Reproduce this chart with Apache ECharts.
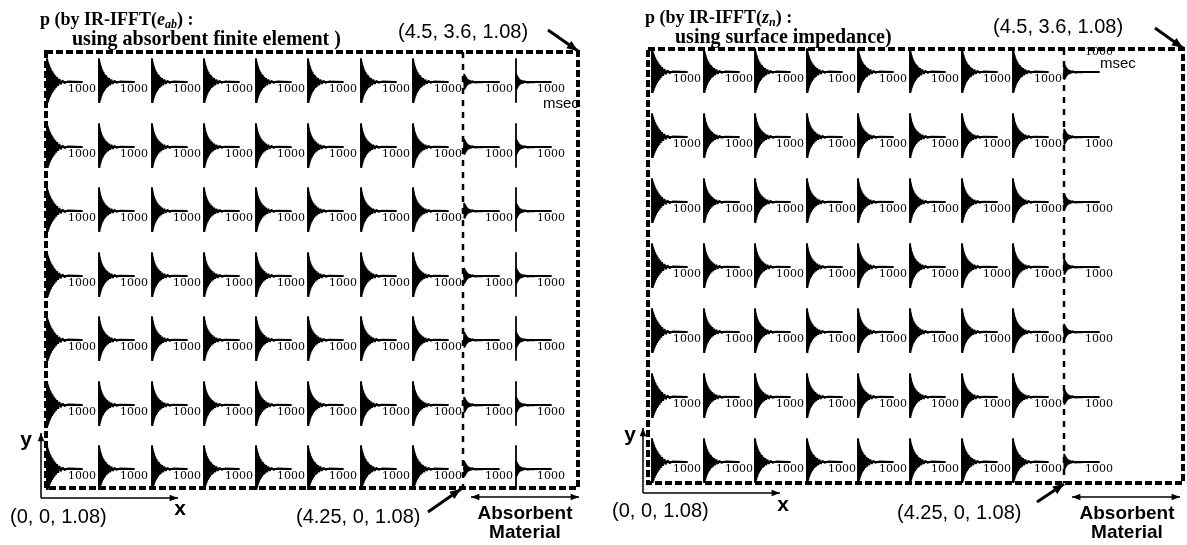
<!DOCTYPE html>
<html>
<head>
<meta charset="utf-8">
<script src="https://cdn.jsdelivr.net/npm/echarts@6/dist/echarts.min.js"></script>
<style>html,body{margin:0;background:#fff}#c{width:1187px;height:545px}</style>
</head>
<body>
<div id="c"></div>
<script>
// Impulse responses p(t) at 7 x N receiver points, two models side by side.
// Left: absorbent finite element (receivers also inside the absorbent layer),
// right: surface impedance. Each mini plot: 0..1000 msec.

// sample times (msec) shared by all waveforms
const TIME_MS = [0, 6, 12, 18, 24, 30, 38, 46, 54, 62, 72, 82, 92, 104, 116, 130,
  145, 160, 178, 196, 216, 238, 262, 290, 320, 355, 395, 440, 500, 600, 1000];

// read-off envelopes (normalised pressure), alternating sign
const WAVE_WALL = [0, 1.0, -0.95, 0.92, -0.9, 0.87, -0.84, 0.8, -0.77, 0.74, -0.7, 0.66,
  -0.63, 0.6, -0.56, 0.52, -0.48, 0.45, -0.41, 0.37, -0.33, 0.29, -0.25, 0.21, -0.17, 0.13,
  -0.1, 0.075, -0.05, 0.025, 0];
const WAVE_EDGE = [0, 1.0, -0.93, 0.9, -0.86, 0.82, -0.78, 0.74, -0.7, 0.66, -0.62, 0.58,
  -0.54, 0.5, -0.47, 0.43, -0.4, 0.36, -0.33, 0.3, -0.26, 0.23, -0.2, 0.17, -0.14, 0.11,
  -0.085, 0.065, -0.045, 0.022, 0];
const WAVE_ROOM = [0, 1.0, -0.92, 0.88, -0.84, 0.8, -0.75, 0.7, -0.66, 0.62, -0.58, 0.54,
  -0.5, 0.47, -0.44, 0.4, -0.37, 0.33, -0.3, 0.27, -0.24, 0.21, -0.18, 0.15, -0.12, 0.1,
  -0.08, 0.06, -0.04, 0.02, 0];
const WAVE_ABSORB = [0, 0.36, -0.34, 0.32, -0.3, 0.28, -0.26, 0.24, -0.22, 0.2, -0.18, 0.16,
  -0.14, 0.12, -0.11, 0.1, -0.09, 0.08, -0.07, 0.06, -0.05, 0.045, -0.04, 0.035, -0.03,
  0.025, -0.02, 0.015, -0.01, 0.005, 0];

const WAVES = { wall: WAVE_WALL, edge: WAVE_EDGE, room: WAVE_ROOM, absorb: WAVE_ABSORB };

// which waveform each receiver column shows (x = 0 ... 4.25 | absorbent)
const LEFT_COLUMN_WAVES = ['wall', 'room', 'room', 'room', 'room', 'room', 'room', 'room', 'absorb', 'absorb'];
const RIGHT_COLUMN_WAVES = ['wall', 'room', 'room', 'room', 'room', 'room', 'room', 'room', 'absorb'];
const ROW_COUNT = 7;
const TIME_RANGE = [0, 1000];
const TIME_TICK_LABEL = '1000';

// layout (px)
const LEFT_COL_X = [47, 99, 152, 204, 256, 308, 361, 413, 464, 516];
const LEFT_ROW_BASE = [82, 147, 211, 276, 340, 405, 469];
const RIGHT_COL_X = [652, 704, 755, 807, 858, 910, 962, 1013, 1064];
const RIGHT_ROW_BASE = [72, 137, 202, 267, 332, 397, 462];
const ABOVE = 23, BELOW = 20; // vertical axis reach above / below the zero line

const grid = [], xAxis = [], yAxis = [], series = [];

function addPanel(colX, rowBase, colWaves, boundaryCol, raisedCell) {
  rowBase.slice(0, ROW_COUNT).forEach((base, r) => {
    colX.forEach((x, c) => {
      const i = grid.length;
      let kind = colWaves[c];
      if (kind === 'room' && (r === 0 || r === ROW_COUNT - 1)) kind = 'edge';
      const raised = raisedCell && raisedCell[0] === r && raisedCell[1] === c;
      grid.push({ left: x, top: base - ABOVE, width: 35, height: ABOVE + BELOW, outerBoundsMode: 'none' });
      xAxis.push({
        gridIndex: i, type: 'value', min: TIME_RANGE[0], max: TIME_RANGE[1], interval: 1000,
        offset: -BELOW,
        axisLine: { onZero: false, lineStyle: { color: '#000', width: 1.8 } },
        axisTick: { show: false }, splitLine: { show: false },
        axisLabel: {
          showMinLabel: false, showMaxLabel: true, margin: raised ? -25 : 2,
          formatter: v => (v === TIME_RANGE[1] ? TIME_TICK_LABEL : ''),
          color: '#000', fontFamily: '"DejaVu Serif", serif', fontSize: 11,
        },
      });
      yAxis.push({
        gridIndex: i, type: 'value', min: -BELOW / ABOVE, max: 1,
        axisLine: { show: c !== boundaryCol, onZero: false, lineStyle: { color: '#000', width: 1.8 } },
        axisTick: { show: false }, axisLabel: { show: false }, splitLine: { show: false },
      });
      const wave = WAVES[kind];
      series.push({
        type: 'line', xAxisIndex: i, yAxisIndex: i,
        data: TIME_MS.map((t, k) => [t, wave[k]]),
        showSymbol: false, symbol: 'none', silent: true,
        lineStyle: { color: '#000', width: 1.8 },
      });
    });
  });
}

addPanel(LEFT_COL_X, LEFT_ROW_BASE, LEFT_COLUMN_WAVES, 8);
addPanel(RIGHT_COL_X, RIGHT_ROW_BASE, RIGHT_COLUMN_WAVES, 8, [0, 8]);

// decorations
function arrow(x1, y1, x2, y2, w, h, both) {
  const a = Math.atan2(y2 - y1, x2 - x1);
  const head = (x, y, ang) => ({
    type: 'polygon', silent: true,
    shape: { points: [[x, y],
      [x - h * Math.cos(ang - 0.38), y - h * Math.sin(ang - 0.38)],
      [x - h * Math.cos(ang + 0.38), y - h * Math.sin(ang + 0.38)]] },
    style: { fill: '#000' },
  });
  const els = [{ type: 'line', silent: true, shape: { x1, y1, x2, y2 }, style: { stroke: '#000', lineWidth: w } },
    head(x2, y2, a)];
  if (both) els.push(head(x1, y1, a + Math.PI));
  return els;
}
function label(text, x, y, font, align) {
  return { type: 'text', x, y, silent: true,
    style: { text, font, fill: '#000', textAlign: align || 'left', textVerticalAlign: 'middle' } };
}
function title(x, y, sym, sub) {
  const base = { fontFamily: '"Liberation Serif", serif', fontWeight: 'bold', fontSize: 18, lineHeight: 22 };
  return { type: 'text', x, y, silent: true,
    style: {
      text: `{a|p (by IR-IFFT(}{i|${sym}}{s|${sub}}{a|) :}`, fill: '#000',
      rich: {
        a: base,
        i: { ...base, fontStyle: 'italic' },
        s: { ...base, fontStyle: 'italic', fontSize: 12, lineHeight: 12, verticalAlign: 'bottom' },
      },
    } };
}
const SANS = '20px "Liberation Sans", Arial, sans-serif';
const SERIF2 = 'bold 20px "Liberation Serif", serif';
const BOLD = 'bold 19px "Liberation Sans", Arial, sans-serif';
const AXIS_NAME = 'bold 21px "Liberation Sans", Arial, sans-serif';
const MSEC = '15px "Liberation Sans", Arial, sans-serif';

const graphic = [
  // left panel
  { type: 'rect', silent: true, shape: { x: 46, y: 52, width: 532, height: 436 },
    style: { fill: 'none', stroke: '#000', lineWidth: 4, lineDash: [7, 3] } },
  { type: 'line', silent: true, shape: { x1: 463, y1: 52, x2: 463, y2: 488 },
    style: { stroke: '#000', lineWidth: 2.5, lineDash: [6, 6] } },
  title(40, 9, 'e', 'ab'),
  label('using absorbent finite element )', 72, 40, SERIF2),
  label('(4.5, 3.6, 1.08)', 398, 32, SANS),
  ...arrow(548, 30, 578, 51, 3, 12),
  label('msec', 543, 104, MSEC),
  ...arrow(41, 498, 41, 433, 1.5, 9),
  ...arrow(41, 498, 178, 498, 1.5, 9),
  label('y', 26, 440, AXIS_NAME, 'center'),
  label('x', 180, 509, AXIS_NAME, 'center'),
  label('(0, 0, 1.08)', 10, 517, SANS),
  label('(4.25, 0, 1.08)', 296, 517, SANS),
  ...arrow(428, 512, 461, 489, 3, 12),
  ...arrow(471, 497, 579, 497, 1.5, 9, true),
  label('Absorbent', 525, 514, BOLD, 'center'),
  label('Material', 525, 533, BOLD, 'center'),

  // right panel
  { type: 'rect', silent: true, shape: { x: 648, y: 49, width: 535, height: 434 },
    style: { fill: 'none', stroke: '#000', lineWidth: 4, lineDash: [7, 3] } },
  { type: 'line', silent: true, shape: { x1: 1064, y1: 49, x2: 1064, y2: 483 },
    style: { stroke: '#000', lineWidth: 2.5, lineDash: [6, 6] } },
  title(645, 7, 'z', 'n'),
  label('using surface impedance)', 675, 38, SERIF2),
  label('(4.5, 3.6, 1.08)', 993, 27, SANS),
  ...arrow(1155, 28, 1183, 48, 3, 12),
  label('msec', 1100, 64, MSEC),
  ...arrow(643, 493, 643, 428, 1.5, 9),
  ...arrow(643, 493, 780, 493, 1.5, 9),
  label('y', 630, 435, AXIS_NAME, 'center'),
  label('x', 783, 505, AXIS_NAME, 'center'),
  label('(0, 0, 1.08)', 612, 511, SANS),
  label('(4.25, 0, 1.08)', 897, 513, SANS),
  ...arrow(1037, 502, 1064, 484, 3, 12),
  ...arrow(1072, 497, 1180, 497, 1.5, 9, true),
  label('Absorbent', 1127, 514, BOLD, 'center'),
  label('Material', 1127, 533, BOLD, 'center'),
];

const chart = echarts.init(document.getElementById('c'));
chart.setOption({
  animation: false,
  backgroundColor: '#fff',
  grid, xAxis, yAxis, series, graphic,
});
</script>
</body>
</html>
